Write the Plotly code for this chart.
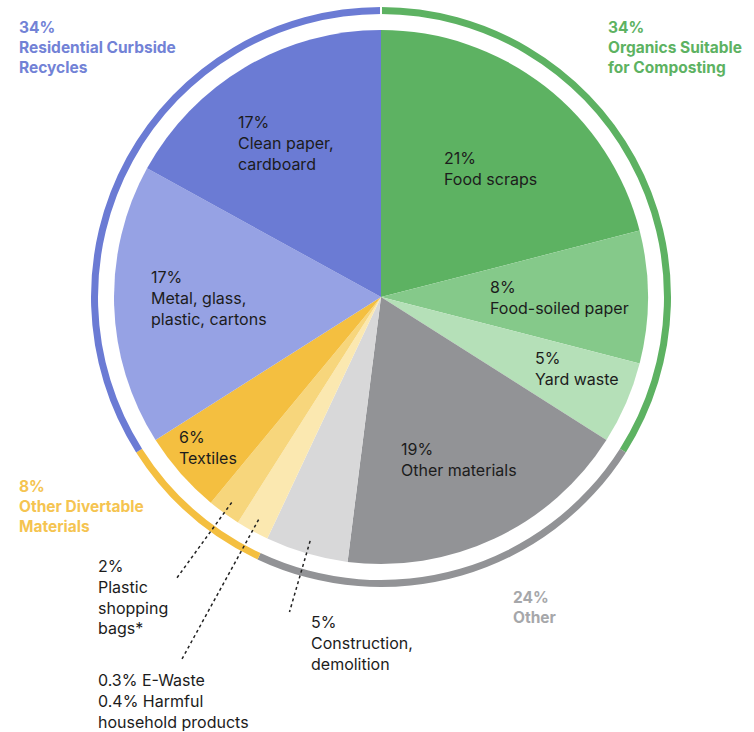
import math
import plotly.graph_objects as go

W, H = 754, 732

# ---- data (clockwise from 12 o'clock) ----
slice_names = ["Food scraps", "Food-soiled paper", "Yard waste", "Other materials",
               "Construction, demolition", "E-Waste / Harmful household products",
               "Plastic shopping bags", "Textiles", "Metal, glass, plastic, cartons",
               "Clean paper, cardboard"]
slice_values = [21, 8, 5, 18, 5, 2, 2, 5, 17, 17]
slice_group = [0, 0, 0, 1, 1, 2, 2, 2, 3, 3]
slice_texts = ["21%<br>Food scraps", "8%<br>Food-soiled paper", "5%<br>Yard waste",
               "19%<br>Other materials", "5%<br>Construction,<br>demolition",
               "0.3% E-Waste<br>0.4% Harmful<br>household products",
               "2%<br>Plastic<br>shopping<br>bags*", "6%<br>Textiles",
               "17%<br>Metal, glass,<br>plastic, cartons", "17%<br>Clean paper,<br>cardboard"]

group_names = ["Organics Suitable for Composting", "Other", "Other Divertable Materials",
               "Residential Curbside Recycles"]
group_texts = ["<b>34%<br>Organics Suitable<br>for Composting</b>", "<b>24%<br>Other</b>",
               "<b>8%<br>Other Divertable<br>Materials</b>", "<b>34%<br>Residential Curbside<br>Recycles</b>"]
group_values = [sum(v for v, g in zip(slice_values, slice_group) if g == k) for k in range(4)]

# ---- styles / layout positions (pixels) ----
slice_colors = ["#5db262", "#85c98a", "#b5e0b8", "#929396", "#d8d8d9",
                "#fbe8b0", "#f7d67c", "#f4bf40", "#96a2e4", "#6b7bd4"]
ring_colors = ["#5db262", "#929396", "#f4bf40", "#6b7bd4"]
group_text_colors = ["#5db262", "#a6a7aa", "#f5c451", "#7282d6"]

CX, CY = 381, 297
R_PIE = 267
R_RING_OUT, R_RING_IN = 290, 283

# left x, center y of each label block
slice_text_pos = [(443, 168), (489, 297), (534, 369), (400, 459.5), (310, 642.5),
                  (97, 701), (97, 597), (178, 447.5), (150, 298), (237, 142.5)]
group_text_pos = [(607, 47), (512, 607.5), (18, 506), (18, 47.5)]
leader_end_r = {4: 328, 5: 414, 6: 348}
LEADER_START_R = 254

FONT = "Inter, Liberation Sans, Arial, sans-serif"


def px(x):
    return x / W


def py(y):
    return 1 - y / H


def dom(r):
    return dict(x=[px(CX - r), px(CX + r)], y=[max(0, py(CY + r)), min(1, py(CY - r))])


fig = go.Figure()
fig.add_trace(go.Pie(
    values=slice_values, labels=slice_names, sort=False, direction="clockwise",
    rotation=0, textinfo="none", hoverinfo="label+value",
    marker=dict(colors=slice_colors, line=dict(width=0)),
    domain=dom(R_PIE), showlegend=False,
))
fig.add_trace(go.Pie(
    values=group_values, labels=group_names, sort=False, direction="clockwise",
    rotation=0, textinfo="none", hoverinfo="label+value",
    hole=R_RING_IN / R_RING_OUT,
    marker=dict(colors=ring_colors, line=dict(width=0)),
    domain=dom(R_RING_OUT), showlegend=False,
))

annotations = []
for t, (x, y) in zip(slice_texts, slice_text_pos):
    annotations.append(dict(text=t, x=px(x - 1), y=py(y), xref="paper", yref="paper",
                            xanchor="left", yanchor="middle", align="left",
                            showarrow=False, font=dict(family=FONT, size=16, color="#1c1c1c")))
for t, (x, y), c in zip(group_texts, group_text_pos, group_text_colors):
    annotations.append(dict(text=t, x=px(x - 1), y=py(y), xref="paper", yref="paper",
                            xanchor="left", yanchor="middle", align="left",
                            showarrow=False, font=dict(family=FONT, size=15.5, color=c)))

shapes = []
total = sum(slice_values)
cum = 0
for i, v in enumerate(slice_values):
    mid = (cum + v / 2) / total * 2 * math.pi
    cum += v
    if i in leader_end_r:
        r0, r1 = LEADER_START_R, leader_end_r[i]
        x0, y0 = CX + r0 * math.sin(mid), CY - r0 * math.cos(mid)
        x1, y1 = CX + r1 * math.sin(mid), CY - r1 * math.cos(mid)
        shapes.append(dict(type="line", xref="paper", yref="paper",
                           x0=px(x0), y0=py(y0), x1=px(x1), y1=py(y1),
                           line=dict(color="#222222", width=1.5, dash="dot"), layer="above"))

# small white gap in the ring at 12 o'clock
shapes.append(dict(type="line", xref="paper", yref="paper",
                   x0=px(CX), y0=py(CY - R_RING_OUT - 2), x1=px(CX), y1=py(CY - R_RING_IN + 2),
                   line=dict(color="white", width=2), layer="above"))

fig.update_layout(
    width=W, height=H, margin=dict(l=0, r=0, t=0, b=0),
    paper_bgcolor="white", plot_bgcolor="white",
    annotations=annotations, shapes=shapes, showlegend=False,
)

fig.write_html("out.html", config={"displayModeBar": False},
               post_script="document.body.style.margin='0px';")
